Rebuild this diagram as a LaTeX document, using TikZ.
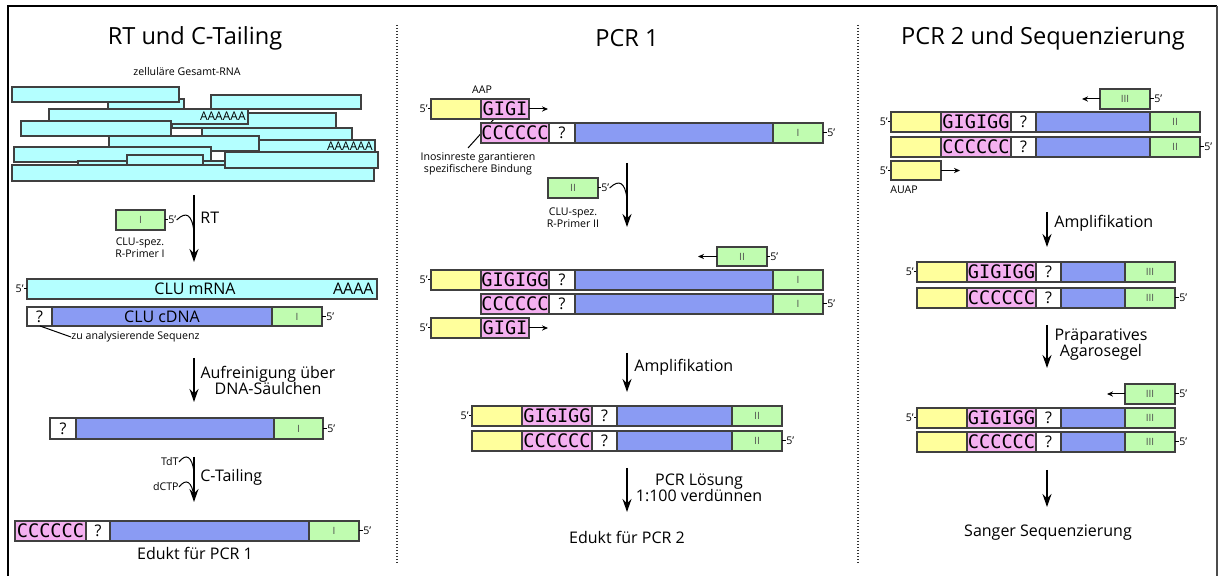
\documentclass[tikz,border=0pt]{standalone}
\usepackage{fontspec}
\setmainfont{Open Sans}
\newfontfamily\seqfont{DejaVu Sans Mono}
\usetikzlibrary{arrows.meta}
\definecolor{rnacyan}{HTML}{B4FFFF}
\definecolor{dnablue}{HTML}{8A9BF3}
\definecolor{primgreen}{HTML}{C0FCB0}
\definecolor{adapyellow}{HTML}{FFFF9C}
\definecolor{tailpink}{HTML}{F4B0F0}

\begin{document}
\begin{tikzpicture}[x=0.5pt,y=-0.5pt,
  seg/.style={draw=black!75,line width=0.6pt},
  rna/.style={seg,fill=rnacyan},
  dna/.style={seg,fill=dnablue},
  prim/.style={seg,fill=primgreen},
  adap/.style={seg,fill=adapyellow},
  tail/.style={seg,fill=tailpink},
  unk/.style={seg,fill=white},
  title/.style={font=\fontsize{11.8}{13}\selectfont},
  big/.style={font=\fontsize{8}{8}\selectfont,inner sep=0pt},
  small/.style={font=\fontsize{5.3}{6}\selectfont,inner sep=0pt},
  polya/.style={font=\fontsize{6}{7}\selectfont,inner sep=0pt},
  seq/.style={font=\seqfont\fontsize{9.3}{10}\selectfont,inner sep=0pt},
  roman/.style={font=\fontsize{5}{6}\selectfont,text=black!70,inner sep=0pt},
  flow/.style={line width=0.75pt,-{Stealth[length=6.5pt,width=4.5pt]}},
  ext/.style={line width=0.5pt,-{Stealth[length=3pt,width=2.6pt]}},
  tick/.style={line width=0.5pt}
]
\useasboundingbox (0,0) rectangle (1220,576);
% frame and column separators
\draw[line width=1.4pt] (8,576) -- (8,6) -- (1217,6);
\draw[line width=0.8pt,black!70] (1217,6) -- (1217,576);
\draw[line width=0.8pt,black!80,dash pattern=on 0.7pt off 0.8pt] (397,25) -- (397,563);
\draw[line width=0.8pt,black!80,dash pattern=on 0.7pt off 0.8pt] (858,25) -- (858,563);

\node[title] (ttlrt) at (195,38) {RT und C-Tailing};
\node[title] (ttlpcra) at (627,38) {PCR 1};
\node[title] (ttlpcrb) at (1043,38) {PCR 2 und Sequenzierung};

%%% RT und C-Tailing
\node[small] (totalrna) at (187,72) {zelluläre Gesamt-RNA};
% RNA pool
\draw[rna] (108,99) rectangle (184,109);
\draw[rna] (12,87) rectangle (179,102);
\draw[rna] (211,95) rectangle (361,109);
\draw[rna] (172,113) rectangle (336,128);
\draw[rna] (49,109) rectangle (248,124);
\node[polya,anchor=east] (polyaa) at (246,116.5) {AAAAAA};
\draw[rna] (21,121) rectangle (171,136);
\draw[rna] (202,128) rectangle (352,140);
\draw[rna] (238,140) rectangle (375,152);
\node[polya,anchor=east] (polyab) at (373,146) {AAAAAA};
\draw[rna] (109,136) rectangle (259,151);
\draw[rna] (14,147) rectangle (211,162);
\draw[rna] (78,161) rectangle (230,166);
\draw[rna] (127,155) rectangle (203,165);
\draw[rna] (12,165) rectangle (374,181);
\draw[rna] (225,152) rectangle (378,168);

% RT with primer I
\coordinate (rttop) at (194,195);
\coordinate (rtbot) at (194,262);
\draw[flow] (rttop) -- (rtbot);
\draw[prim] (116,210) rectangle (165,230);
\node[roman] (rpa) at (140.5,220) {I};
\node[small,anchor=west] (rpafive) at (168,220) {5’};
\draw[tick] (165,220) -- (rpafive.west);
\draw[tick] (rpafive.east) .. controls (186,211) and (192,214) .. (194,232);
\node[big,anchor=west] (rt) at (200,218) {RT};
\node[small,align=center] (rpatxt) at (140,248) {CLU-spez.\\R-Primer I};

% mRNA / cDNA hybrid
\draw[rna] (27,279) rectangle (377,299);
\node[small,anchor=east] (mfive) at (24,289) {5’};
\draw[tick] (mfive.east) -- (27,289);
\node[big] (mrna) at (195,289) {CLU mRNA};
\node[big,anchor=east] (mpolya) at (374,289) {AAAA};
\draw[unk] (27,307) rectangle (52,326);
\node[big] (qa) at (39.5,316.5) {?};
\draw[dna] (52,307) rectangle (272,326);
\node[big] (cdna) at (162,316.5) {CLU cDNA};
\draw[prim] (272,307) rectangle (322,326);
\node[roman] (cpa) at (297,316.5) {I};
\node[small,anchor=west] (cfive) at (326,316.5) {5’};
\draw[tick] (322,316.5) -- (cfive.west);
\coordinate (qapin) at (40,326);
\node[small,anchor=west] (seqnote) at (71,337) {zu analysierende Sequenz};
\draw[tick] (qapin) -- (seqnote.west);

% column purification
\coordinate (putop) at (194,358);
\coordinate (pubot) at (194,402);
\draw[flow] (putop) -- (pubot);
\node[big,align=center] (purif) at (268,380) {Aufreinigung über\\DNA-Säulchen};
\draw[unk] (50,418) rectangle (76,439);
\node[big] (qb) at (63,428.5) {?};
\draw[dna] (76,418) rectangle (274,439);
\draw[prim] (274,418) rectangle (323,439);
\node[roman] (cpb) at (298.5,428.5) {I};
\node[small,anchor=west] (pfive) at (327,428.5) {5’};
\draw[tick] (323,428.5) -- (pfive.west);

% C-tailing
\coordinate (cttop) at (194,457);
\coordinate (ctbot) at (194,502);
\draw[flow] (cttop) -- (ctbot);
\node[small,anchor=east] (tdt) at (179,462) {TdT};
\draw[tick] (tdt.east) .. controls (186,453) and (192,456) .. (194,472);
\node[small,anchor=east] (dctp) at (179,487) {dCTP};
\draw[tick] (dctp.east) .. controls (186,478) and (192,481) .. (194,497);
\node[big,anchor=west] (ctail) at (200,477) {C-Tailing};
\draw[tail] (15,521) rectangle (86,541);
\node[seq] (ccca) at (50.5,531) {CCCCCC};
\draw[unk] (86,521) rectangle (110,541);
\node[big] (qc) at (98,531) {?};
\draw[dna] (110,521) rectangle (309,541);
\draw[prim] (309,521) rectangle (359,541);
\node[roman] (cpc) at (334,531) {I};
\node[small,anchor=west] (tfive) at (363,531) {5’};
\draw[tick] (359,531) -- (tfive.west);
\node[big] (eduktone) at (195,553) {Edukt für PCR 1};

%%% PCR 1
\node[small] (aap) at (482,90) {AAP};
\coordinate (inopin) at (494,119);
\node[small,align=center] (inonote) at (478,163.5) {Inosinreste garantieren\\spezifischere Bindung};
\draw[tick] (inopin) -- (468,148);
\node[small,anchor=east] (aapfive) at (428,109) {5’};
\draw[tick] (aapfive.east) -- (431,109);
\draw[adap] (431,99) rectangle (481,119);
\draw[tail] (481,99) rectangle (529,119);
\node[seq] (gigia) at (505,109) {GIGI};
\draw[ext] (529,109) -- (548,109);
\draw[tail] (481,123) rectangle (549,143);
\node[seq] (cccb) at (515,133) {CCCCCC};
\draw[unk] (549,123) rectangle (575,143);
\node[big] (qd) at (562,133) {?};
\draw[dna] (575,123) rectangle (773,143);
\draw[prim] (773,123) rectangle (823,143);
\node[roman] (cpd) at (798,133) {I};
\node[small,anchor=west] (tmplfive) at (827,133) {5’};
\draw[tick] (823,133) -- (tmplfive.west);

% primer II joins
\coordinate (patop) at (627,163);
\coordinate (pabot) at (627,227);
\draw[flow] (patop) -- (pabot);
\draw[prim] (548,178) rectangle (598,198);
\node[roman] (rpb) at (573,188) {II};
\node[small,anchor=west] (rpbfive) at (601,188) {5’};
\draw[tick] (598,188) -- (rpbfive.west);
\draw[tick] (rpbfive.east) .. controls (619,179) and (625,182) .. (627,199);
\node[small,align=center] (rpbtxt) at (573,217.5) {CLU-spez.\\R-Primer II};

\draw[prim] (717,247) rectangle (767,266);
\node[roman] (rpc) at (742,256.5) {II};
\draw[ext] (717,256.5) -- (698,256.5);
\node[small,anchor=west] (rpcfive) at (770,256.5) {5’};
\draw[tick] (767,256.5) -- (rpcfive.west);
% upper strand
\node[small,anchor=east] (ufive) at (428,280) {5’};
\draw[tick] (ufive.east) -- (431,280);
\draw[adap] (431,270) rectangle (481,290);
\draw[tail] (481,270) rectangle (549,290);
\node[seq] (gigigga) at (515,280) {GIGIGG};
\draw[unk] (549,270) rectangle (575,290);
\node[big] (qe) at (562,280) {?};
\draw[dna] (575,270) rectangle (773,290);
\draw[prim] (773,270) rectangle (823,290);
\node[roman] (cpe) at (798,280) {I};
% lower strand
\draw[tail] (481,294) rectangle (549,314);
\node[seq] (cccc) at (515,304) {CCCCCC};
\draw[unk] (549,294) rectangle (575,314);
\node[big] (qf) at (562,304) {?};
\draw[dna] (575,294) rectangle (773,314);
\draw[prim] (773,294) rectangle (823,314);
\node[roman] (cpf) at (798,304) {I};
\node[small,anchor=west] (lfive) at (827,304) {5’};
\draw[tick] (823,304) -- (lfive.west);
% AAP again
\node[small,anchor=east] (aapfiveb) at (428,328) {5’};
\draw[tick] (aapfiveb.east) -- (431,328);
\draw[adap] (431,318) rectangle (481,338);
\draw[tail] (481,318) rectangle (529,338);
\node[seq] (gigib) at (505,328) {GIGI};
\draw[ext] (529,328) -- (548,328);

\coordinate (amtop) at (627,353);
\coordinate (ambot) at (627,392);
\draw[flow] (amtop) -- (ambot);
\node[big,anchor=west] (ampla) at (634,367) {Amplifikation};

\node[small,anchor=east] (afive) at (469,416) {5’};
\draw[tick] (afive.east) -- (472,416);
\draw[adap] (472,406) rectangle (522,426);
\draw[tail] (522,406) rectangle (592,426);
\node[seq] (gigiggb) at (557,416) {GIGIGG};
\draw[unk] (592,406) rectangle (617,426);
\node[big] (qg) at (604.5,416) {?};
\draw[dna] (617,406) rectangle (732,426);
\draw[prim] (732,406) rectangle (782,426);
\node[roman] (cpg) at (757,416) {II};
\draw[adap] (472,431) rectangle (522,451);
\draw[tail] (522,431) rectangle (592,451);
\node[seq] (cccd) at (557,441) {CCCCCC};
\draw[unk] (592,431) rectangle (617,451);
\node[big] (qh) at (604.5,441) {?};
\draw[dna] (617,431) rectangle (732,451);
\draw[prim] (732,431) rectangle (782,451);
\node[roman] (cph) at (757,441) {II};
\node[small,anchor=west] (bfive) at (786,441) {5’};
\draw[tick] (782,441) -- (bfive.west);

\coordinate (dltop) at (627,468);
\coordinate (dlbot) at (627,512);
\draw[flow] (dltop) -- (dlbot);
\node[big,align=center] (dilute) at (699,487.5) {PCR Lösung\\1:100 verdünnen};
\node[big] (edukttwo) at (627,537) {Edukt für PCR 2};

%%% PCR 2 und Sequenzierung
\draw[prim] (1100,89) rectangle (1150,109);
\node[roman] (rpd) at (1125,99) {III};
\draw[ext] (1100,99) -- (1082,99);
\node[small,anchor=west] (rpdfive) at (1154,99) {5’};
\draw[tick] (1150,99) -- (rpdfive.west);
\node[small,anchor=east] (sfive) at (888,122) {5’};
\draw[tick] (sfive.east) -- (891,122);
\draw[adap] (891,112) rectangle (941,132);
\draw[tail] (941,112) rectangle (1011,132);
\node[seq] (gigiggc) at (976,122) {GIGIGG};
\draw[unk] (1011,112) rectangle (1036,132);
\node[big] (qi) at (1023.5,122) {?};
\draw[dna] (1036,112) rectangle (1150,132);
\draw[prim] (1150,112) rectangle (1200,132);
\node[roman] (cpi) at (1175,122) {II};
\draw[adap] (891,137) rectangle (941,157);
\draw[tail] (941,137) rectangle (1011,157);
\node[seq] (ccce) at (976,147) {CCCCCC};
\draw[unk] (1011,137) rectangle (1036,157);
\node[big] (qj) at (1023.5,147) {?};
\draw[dna] (1036,137) rectangle (1150,157);
\draw[prim] (1150,137) rectangle (1200,157);
\node[roman] (cpj) at (1175,147) {II};
\node[small,anchor=west] (sfiveb) at (1204,147) {5’};
\draw[tick] (1200,147) -- (sfiveb.west);
\node[small,anchor=east] (auapfive) at (888,170.5) {5’};
\draw[tick] (auapfive.east) -- (891,170.5);
\draw[adap] (891,161) rectangle (941,180);
\draw[ext] (941,170.5) -- (960,170.5);
\node[small] (auap) at (904,190) {AUAP};

\coordinate (amtopb) at (1047,212);
\coordinate (ambotb) at (1047,247);
\draw[flow] (amtopb) -- (ambotb);
\node[big,anchor=west] (amplb) at (1054,223) {Amplifikation};

\node[small,anchor=east] (cfivea) at (914,272) {5’};
\draw[tick] (cfivea.east) -- (917,272);
\draw[adap] (917,262) rectangle (967,282);
\draw[tail] (967,262) rectangle (1036,282);
\node[seq] (gigiggd) at (1001.5,272) {GIGIGG};
\draw[unk] (1036,262) rectangle (1061,282);
\node[big] (qk) at (1048.5,272) {?};
\draw[dna] (1061,262) rectangle (1125,282);
\draw[prim] (1125,262) rectangle (1175,282);
\node[roman] (cpk) at (1150,272) {III};
\draw[adap] (917,288) rectangle (967,308);
\draw[tail] (967,288) rectangle (1036,308);
\node[seq] (cccf) at (1001.5,298) {CCCCCC};
\draw[unk] (1036,288) rectangle (1061,308);
\node[big] (ql) at (1048.5,298) {?};
\draw[dna] (1061,288) rectangle (1125,308);
\draw[prim] (1125,288) rectangle (1175,308);
\node[roman] (cpl) at (1150,298) {III};
\node[small,anchor=west] (cfiveb) at (1179,298) {5’};
\draw[tick] (1175,298) -- (cfiveb.west);

\coordinate (geltop) at (1047,325);
\coordinate (gelbot) at (1047,368);
\draw[flow] (geltop) -- (gelbot);
\node[big,align=center] (gel) at (1101,345) {Präparatives\\Agarosegel};

\draw[prim] (1125,384) rectangle (1175,404);
\node[roman] (rpe) at (1150,394) {III};
\draw[ext] (1125,394) -- (1107,394);
\node[small,anchor=west] (rpefive) at (1179,394) {5’};
\draw[tick] (1175,394) -- (rpefive.west);
\node[small,anchor=east] (dfivea) at (914,418) {5’};
\draw[tick] (dfivea.east) -- (917,418);
\draw[adap] (917,408) rectangle (967,428);
\draw[tail] (967,408) rectangle (1036,428);
\node[seq] (gigigge) at (1001.5,418) {GIGIGG};
\draw[unk] (1036,408) rectangle (1061,428);
\node[big] (qm) at (1048.5,418) {?};
\draw[dna] (1061,408) rectangle (1125,428);
\draw[prim] (1125,408) rectangle (1175,428);
\node[roman] (cpm) at (1150,418) {III};
\draw[adap] (917,432) rectangle (967,452);
\draw[tail] (967,432) rectangle (1036,452);
\node[seq] (cccg) at (1001.5,442) {CCCCCC};
\draw[unk] (1036,432) rectangle (1061,452);
\node[big] (qn) at (1048.5,442) {?};
\draw[dna] (1061,432) rectangle (1125,452);
\draw[prim] (1125,432) rectangle (1175,452);
\node[roman] (cpn) at (1150,442) {III};
\node[small,anchor=west] (dfiveb) at (1179,442) {5’};
\draw[tick] (1175,442) -- (dfiveb.west);

\coordinate (sqtop) at (1047,470);
\coordinate (sqbot) at (1047,507);
\draw[flow] (sqtop) -- (sqbot);
\node[big] (sanger) at (1048,533) {Sanger Sequenzierung};
\end{tikzpicture}
\end{document}
